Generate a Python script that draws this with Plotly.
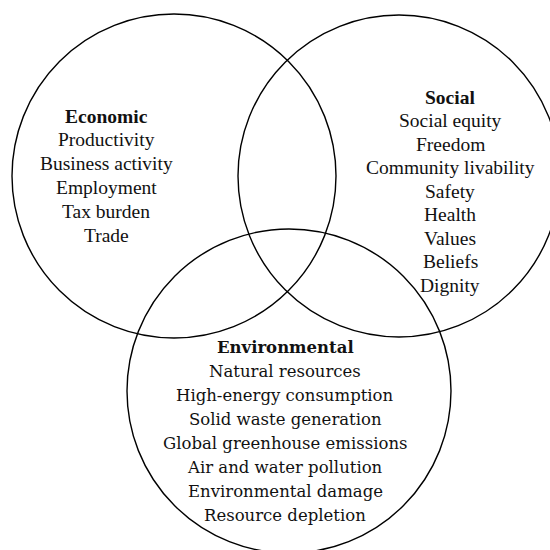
import plotly.graph_objects as go

# ---- data ----
circle_names = ["Economic", "Social", "Environmental"]
economic_items = ["Productivity", "Business activity", "Employment", "Tax burden", "Trade"]
social_items = ["Social equity", "Freedom", "Community livability", "Safety",
                "Health", "Values", "Beliefs", "Dignity"]
environmental_items = ["Natural resources", "High-energy consumption", "Solid waste generation",
                       "Global greenhouse emissions", "Air and water pollution",
                       "Environmental damage", "Resource depletion"]

# ---- layout (pixel coordinates, y downward) ----
circles = {
    "Economic": dict(cx=174, cy=176, r=162),
    "Social": dict(cx=399, cy=176, r=161),
    "Environmental": dict(cx=289, cy=391, r=162),
}
text_blocks = {
    "Economic": dict(x=106, y0=116, dy=23.8, items=economic_items,
                     font="Liberation Serif", size=19.5),
    "Social": dict(x=450, y0=97, dy=23.5, items=social_items,
                   font="Liberation Serif", size=19.5),
    "Environmental": dict(x=285, y0=347, dy=24.0, items=environmental_items,
                          font="DejaVu Serif", size=16.5),
}

fig = go.Figure()
fig.add_trace(go.Scatter(x=[0, 550], y=[0, 550], mode="markers",
                         marker=dict(opacity=0), hoverinfo="skip", showlegend=False))

for name in circle_names:
    c = circles[name]
    fig.add_shape(type="circle", xref="x", yref="y",
                  x0=c["cx"] - c["r"], x1=c["cx"] + c["r"],
                  y0=c["cy"] - c["r"], y1=c["cy"] + c["r"],
                  line=dict(color="black", width=1.4), fillcolor="rgba(0,0,0,0)")

for name in circle_names:
    b = text_blocks[name]
    lines = [f"<b>{name}</b>"] + b["items"]
    for i, t in enumerate(lines):
        fig.add_annotation(x=b["x"], y=b["y0"] + i * b["dy"], xref="x", yref="y",
                           text=t, showarrow=False, xanchor="center", yanchor="middle",
                           font=dict(family=b["font"], size=b["size"], color="#111"))

fig.update_layout(
    width=550, height=550,
    margin=dict(l=0, r=0, t=0, b=0),
    paper_bgcolor="white", plot_bgcolor="white",
    xaxis=dict(range=[0, 550], visible=False, fixedrange=True),
    yaxis=dict(range=[550, 0], visible=False, fixedrange=True),
    showlegend=False,
)

fig.write_html("out.html", config={"displayModeBar": False},
               post_script="document.body.style.margin='0';document.body.style.overflow='hidden';")
